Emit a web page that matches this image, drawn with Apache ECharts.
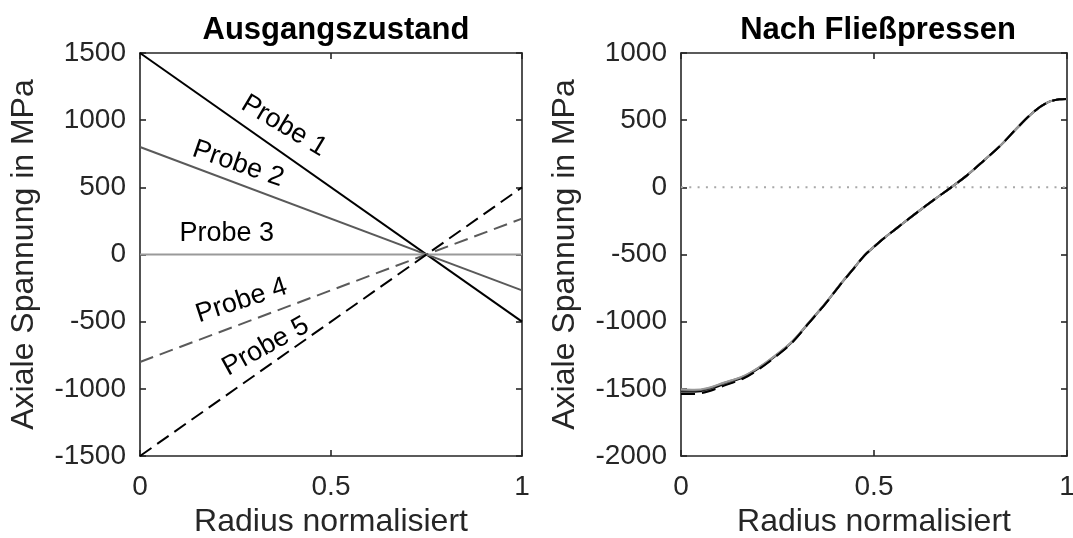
<!DOCTYPE html>
<html>
<head>
<meta charset="utf-8">
<script src="https://cdn.jsdelivr.net/npm/echarts@6/dist/echarts.min.js"></script>
<style>
  html, body { margin: 0; padding: 0; background: #fff; }
  #chart { width: 1073px; height: 538px; }
</style>
</head>
<body>
<div id="chart"></div>
<script>
// ---- data ----------------------------------------------------------
const probeNames = ['Probe 1', 'Probe 2', 'Probe 3', 'Probe 4', 'Probe 5'];

// initial state: linear residual stress over normalised radius
const radiusInitial = [0, 1];
const initialProbe1 = [1500, -500];
const initialProbe2 = [800, -267];
const initialProbe3 = [0, 0];
const initialProbe4 = [-800, 267];
const initialProbe5 = [-1500, 500];

// after extrusion
const radiusFormed = [0, 0.035, 0.07, 0.11, 0.16, 0.2, 0.245, 0.29, 0.33, 0.375, 0.415, 0.445, 0.475, 0.5, 0.52, 0.56, 0.61, 0.655, 0.7, 0.74, 0.785, 0.83, 0.87, 0.915, 0.95, 0.98, 1];
const formedProbe1 = [-1520, -1522, -1506, -1466, -1416, -1350, -1256, -1146, -1013, -862, -715, -612, -508, -443, -392, -302, -190, -93, 0, 87, 200, 318, 440, 565, 632, 655, 658];
const formedProbe2 = [-1510, -1512, -1497, -1458, -1410, -1345, -1252, -1143, -1011, -861, -714, -611, -507, -442, -392, -302, -190, -93, 0, 87, 200, 318, 440, 565, 632, 655, 658];
const formedProbe3 = [-1504, -1507, -1493, -1455, -1407, -1343, -1250, -1142, -1010, -860, -714, -611, -507, -442, -392, -302, -190, -93, 0, 87, 200, 318, 440, 565, 632, 655, 658];
const formedProbe4 = [-1530, -1532, -1514, -1472, -1421, -1354, -1259, -1148, -1014, -863, -716, -613, -508, -443, -392, -302, -190, -93, 0, 87, 200, 318, 440, 565, 632, 655, 658];
const formedProbe5 = [-1538, -1538, -1520, -1478, -1425, -1357, -1261, -1149, -1015, -864, -716, -613, -509, -444, -393, -302, -190, -93, 0, 87, 200, 318, 440, 565, 632, 655, 658];

const zeroRadius = [0, 1];
const zeroLevel = [0, 0];

const titles = ['Ausgangszustand', 'Nach Fließpressen'];
const xName = 'Radius normalisiert';
const yName = 'Axiale Spannung in MPa';
const xRange = [0, 1];
const xStep = 0.5;
const yRangeInitial = [-1500, 1500];
const yRangeFormed = [-2000, 1000];
const yStep = 500;

// ---- styling -------------------------------------------------------
const FONT = "'Liberation Sans', Arial, Helvetica, sans-serif";
const AXIS_COLOR = '#262626';
const DASH = [14, 7];
const lineStyles = [
  { color: '#000000', type: 'solid' },
  { color: '#5a5a5a', type: 'solid' },
  { color: '#9a9a9a', type: 'solid' },
  { color: '#5a5a5a', type: DASH },
  { color: '#000000', type: DASH }
];

// in-plot annotations, anchored in data coordinates of the left panel
const annotations = [
  { text: 'Probe 1', at: [0.377, 957], angle: -31 },
  { text: 'Probe 2', at: [0.257, 674], angle: -19 },
  { text: 'Probe 3', at: [0.227, 153], angle: 0 },
  { text: 'Probe 4', at: [0.266, -344], angle: 18 },
  { text: 'Probe 5', at: [0.329, -686], angle: 29 }
];

const zip = (xs, ys) => xs.map((x, i) => [x, ys[i]]);

const initialSets = [initialProbe1, initialProbe2, initialProbe3, initialProbe4, initialProbe5];
const formedSets = [formedProbe1, formedProbe2, formedProbe3, formedProbe4, formedProbe5];

function frameAxis(kind, gridIndex, position, range, step, withLabels, name) {
  const ax = {
    type: 'value',
    gridIndex: gridIndex,
    position: position,
    min: range[0],
    max: range[1],
    interval: step,
    axisLine: { show: true, onZero: false, lineStyle: { color: AXIS_COLOR, width: 1.6 } },
    axisTick: { show: true, inside: true, length: 6, lineStyle: { color: AXIS_COLOR, width: 1.6 } },
    splitLine: { show: false },
    axisLabel: {
      show: withLabels,
      color: AXIS_COLOR,
      fontFamily: FONT,
      fontSize: 28,
      margin: kind === 'x' ? 17 : 14,
      formatter: v => String(v)
    }
  };
  if (name) {
    ax.name = name;
    ax.nameLocation = 'middle';
    ax.nameTextStyle = { color: AXIS_COLOR, fontFamily: FONT, fontSize: 32 };
    ax.nameGap = kind === 'x' ? 48 : 100;
  }
  return ax;
}

const grids = [
  { left: 140, right: 551, top: 53, bottom: 82, containLabel: false, outerBoundsMode: 'none' },
  { left: 681, right: 6, top: 53, bottom: 82, containLabel: false, outerBoundsMode: 'none' }
];

const xAxes = [
  frameAxis('x', 0, 'bottom', xRange, xStep, true, xName),
  frameAxis('x', 0, 'top', xRange, xStep, false),
  frameAxis('x', 1, 'bottom', xRange, xStep, true, xName),
  frameAxis('x', 1, 'top', xRange, xStep, false)
];
const yAxes = [
  frameAxis('y', 0, 'left', yRangeInitial, yStep, true, yName),
  frameAxis('y', 0, 'right', yRangeInitial, yStep, false),
  frameAxis('y', 1, 'left', yRangeFormed, yStep, true, yName),
  frameAxis('y', 1, 'right', yRangeFormed, yStep, false)
];

const series = [];
initialSets.forEach((vals, i) => {
  series.push({
    name: probeNames[i],
    type: 'line',
    xAxisIndex: 0,
    yAxisIndex: 0,
    data: zip(radiusInitial, vals),
    showSymbol: false,
    silent: true,
    lineStyle: { color: lineStyles[i].color, type: lineStyles[i].type, width: 2 }
  });
});
series.push({
  name: 'Null',
  type: 'line',
  xAxisIndex: 2,
  yAxisIndex: 2,
  data: zip(zeroRadius, zeroLevel),
  showSymbol: false,
  silent: true,
  lineStyle: { color: '#a8a8a8', type: [2, 6.3], width: 2 }
});
formedSets.forEach((vals, i) => {
  series.push({
    name: probeNames[i],
    type: 'line',
    xAxisIndex: 2,
    yAxisIndex: 2,
    data: zip(radiusFormed, vals),
    showSymbol: false,
    silent: true,
    smooth: 0.35,
    lineStyle: { color: lineStyles[i].color, type: lineStyles[i].type, width: 2 }
  });
});

const chart = echarts.init(document.getElementById('chart'), null, { renderer: 'canvas' });
chart.setOption({
  animation: false,
  backgroundColor: '#ffffff',
  title: [
    { text: titles[0], left: 331, top: 10, textAlign: 'center',
      textStyle: { fontFamily: FONT, fontSize: 31, fontWeight: 'bold', color: '#000' } },
    { text: titles[1], left: 873, top: 10, textAlign: 'center',
      textStyle: { fontFamily: FONT, fontSize: 31, fontWeight: 'bold', color: '#000' } }
  ],
  grid: grids,
  xAxis: xAxes,
  yAxis: yAxes,
  series: series
});

// place the probe labels along their lines
const labelGraphics = annotations.map(a => {
  const p = chart.convertToPixel({ gridIndex: 0 }, a.at);
  return {
    type: 'text',
    x: p[0],
    y: p[1],
    rotation: a.angle * Math.PI / 180,
    silent: true,
    style: {
      text: a.text,
      fill: '#000',
      font: '27px ' + FONT,
      align: 'center',
      verticalAlign: 'middle'
    }
  };
});
chart.setOption({ graphic: labelGraphics });
</script>
</body>
</html>
